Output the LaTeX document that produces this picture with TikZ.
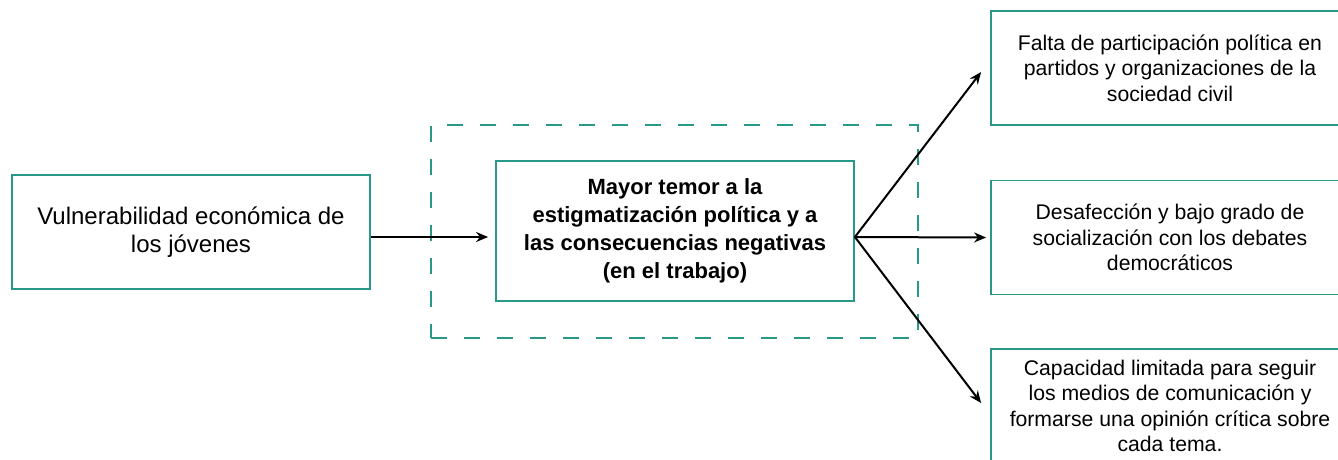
\documentclass[tikz,border=0pt]{standalone}
\usepackage{fontspec}
\setmainfont{Liberation Sans}
\usetikzlibrary{arrows.meta}
\definecolor{tealline}{RGB}{40,152,136}

\begin{document}
\begin{tikzpicture}[x=1pt,y=-1pt,
  caja/.style={draw=tealline,line width=1.8pt,shape=rectangle,minimum width=358pt,inner sep=0pt,align=center,font=\fontsize{21.2}{25.5}\selectfont},
  flecha/.style={line width=2pt,-{Stealth[length=12pt,width=10pt]}}]
\useasboundingbox (0,0) rectangle (1338,459);

\node (dashframe) [draw=tealline,line width=2.2pt,dash pattern=on 16pt off 17pt,shape=rectangle,minimum width=487pt,minimum height=213pt] at (674.5,231.5) {};
\node (boxleft) [caja,minimum height=114pt,font=\fontsize{24}{28}\selectfont] at (191,232) {Vulnerabilidad económica de\\los jóvenes};
\node (boxmid) [caja,minimum height=140pt,font=\fontsize{22}{28}\selectfont\bfseries] at (675,231) {Mayor temor a la\\estigmatización política y a\\las consecuencias negativas\\(en el trabajo)};
\node (boxtop) [caja,minimum height=114pt] at (1170,68) {Falta de participación política en\\partidos y organizaciones de la\\sociedad civil};
\node (boxright) [caja,minimum height=114pt] at (1170,237.5) {Desafección y bajo grado de\\socialización con los debates\\democráticos};
\node (boxbottom) [caja,minimum height=114pt] at (1170,406) {Capacidad limitada para seguir\\los medios de comunicación y\\formarse una opinión crítica sobre\\cada tema.};

\draw[flecha] ([yshift=-5pt]boxleft.east) -- ([xshift=-7pt,yshift=-6pt]boxmid.west);
\draw[flecha] ([yshift=-6pt]boxmid.east) -- ([xshift=-9pt,yshift=-4pt]boxtop.west);
\draw[flecha] ([yshift=-6pt]boxmid.east) -- ([xshift=-4pt,yshift=0pt]boxright.west);
\draw[flecha] ([yshift=-6pt]boxmid.east) -- ([xshift=-9pt,yshift=3pt]boxbottom.west);

\end{tikzpicture}
\end{document}
